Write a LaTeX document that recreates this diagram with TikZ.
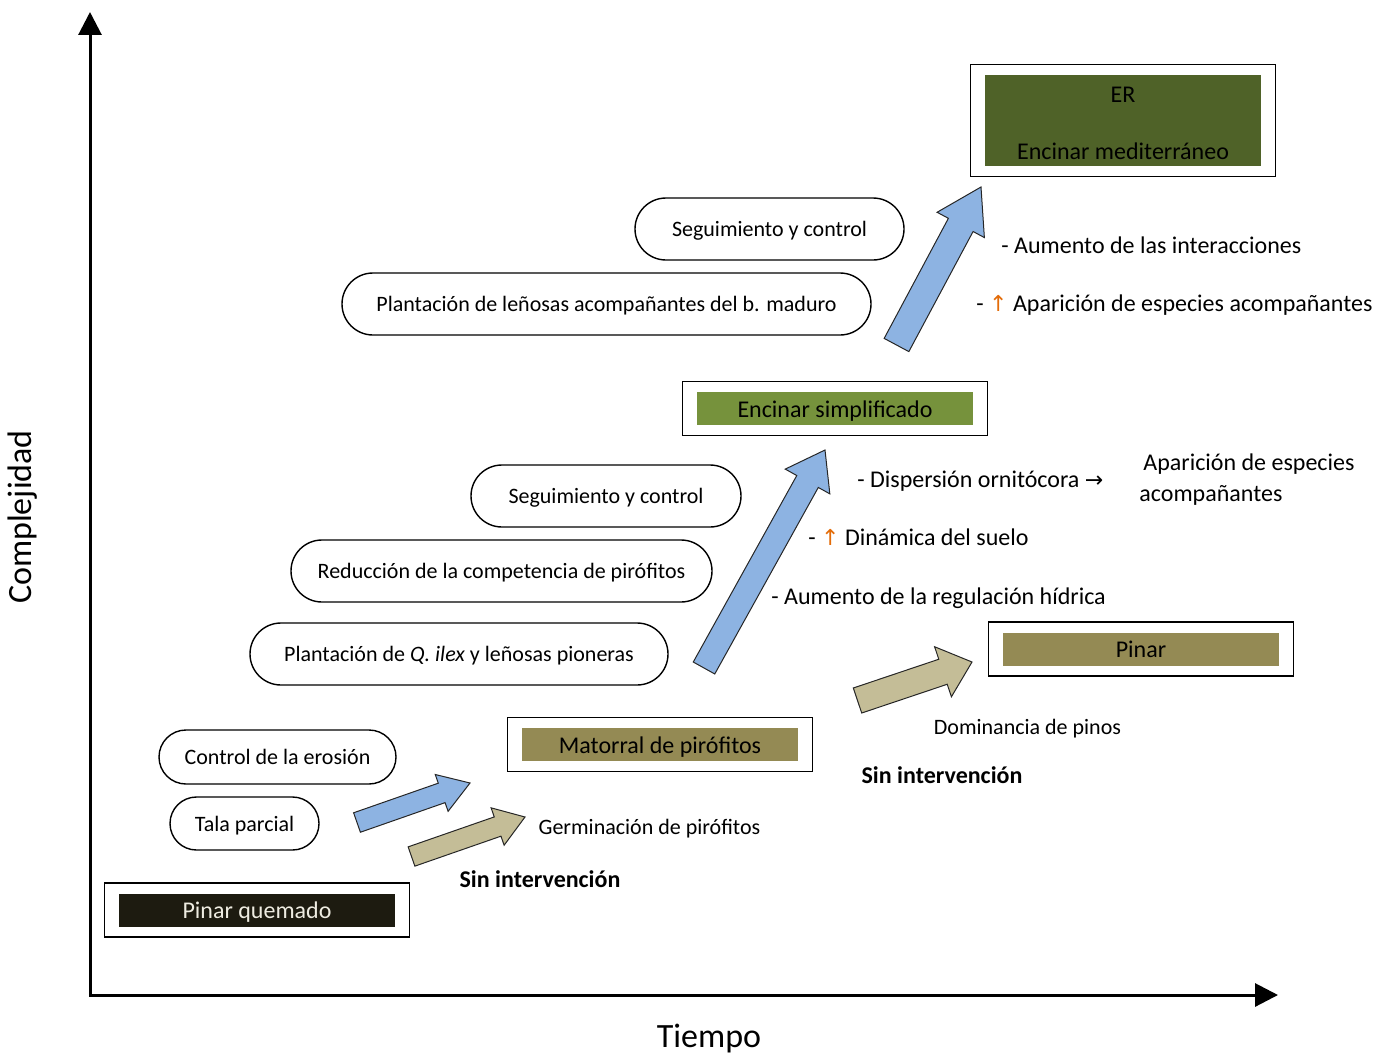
\documentclass[tikz,border=0pt]{standalone}
\usepackage{fontspec}
\setmainfont{Carlito}
\newfontfamily\symbfont{DejaVu Sans}
\usetikzlibrary{arrows.meta,calc,fit,shapes.misc}

\definecolor{burnt}{HTML}{1D1B10}
\definecolor{pale}{HTML}{EEECE1}
\definecolor{pyro}{HTML}{948A54}
\definecolor{holm}{HTML}{76923C}
\definecolor{holmdark}{HTML}{4F6228}
\definecolor{skyarrow}{HTML}{8DB3E2}
\definecolor{sandarrow}{HTML}{C4BD97}
\definecolor{upcolor}{HTML}{E36C09}

\newcommand{\uarrowmark}{{\symbfont\color{upcolor}\fontsize{11}{13}\selectfont ↑}}
\newcommand{\rarrowmark}{{\symbfont\fontsize{11}{13}\selectfont →}}

% block arrow: colour, tail, tip, half shaft, half head, head length
\newcommand{\blockarrow}[6]{%
  \coordinate (hb) at ($(#3)!#6!(#2)$);
  \filldraw[fill=#1, draw=black!85, line width=0.5pt, line join=miter]
    ($(#2)!#4!90:(#3)$) -- ($(hb)!#4!90:(#3)$) -- ($(hb)!#5!90:(#3)$)
    -- (#3) -- ($(hb)!#5!-90:(#3)$) -- ($(hb)!#4!-90:(#3)$)
    -- ($(#2)!#4!-90:(#3)$) -- cycle;
}

\tikzset{
  axisline/.style={line width=1.5pt, {Triangle[length=11.5pt,width=11.5pt]}-{Triangle[length=11.5pt,width=11.5pt]}},
  axislabel/.style={font=\fontsize{17}{20}\selectfont},
  stage/.style={minimum width=138pt, minimum height=16.5pt, inner sep=0pt, font=\fontsize{12}{14.4}\selectfont},
  fixline/.style={text height=10pt, text depth=1.5pt},
  stageframe/.style={draw, line width=0.8pt, inner xsep=7pt, inner ysep=5pt},
  task/.style={rounded rectangle, draw, line width=0.7pt, minimum height=31pt, inner sep=0pt,
    font=\fontsize{11}{13}\selectfont, text height=8.8pt, text depth=1.3pt},
  tasklabel/.style={font=\fontsize{11}{13}\selectfont},
  boldlabel/.style={font=\fontsize{12}{14}\selectfont\bfseries},
  sidenote/.style={anchor=west, inner sep=0pt, font=\fontsize{12}{15.5}\selectfont},
}

\begin{document}
\begin{tikzpicture}[x=0.5pt, y=-0.5pt]
  \useasboundingbox (0,0) rectangle (1396,1054);

  % axes
  \coordinate (origin) at (90,995);
  \coordinate (ytop) at (90,12);
  \coordinate (xend) at (1278,995);
  \draw[axisline] (ytop) -- (origin) -- (xend);
  \node[axislabel] (tiempo) at (709,1039) {Tiempo};
  \node[axislabel, rotate=90] (complej) at (23,517) {Complejidad};

  % states
  \node[stage, fixline, fill=burnt, text=pale] (quemado) at (257,910) {Pinar quemado};
  \node[stage, fixline, fill=pyro] (matorral) at (660,744.5) {Matorral de pirófitos};
  \node[stage, fixline, fill=pyro] (pinar) at (1141,649) {Pinar};
  \node[stage, fixline, fill=holm] (simplif) at (835,408.5) {Encinar simplificado};
  \node[stage, fill=holmdark, minimum height=45.5pt, align=center] (er) at (1123,120.5)
    {\rule{0pt}{10.5pt}ER\\[14.5pt]Encinar mediterráneo};
  \foreach \n in {quemado,matorral,pinar,simplif,er}
    \node[stageframe, fit=(\n)] (\n-box) {};

  % actions
  \node[task, minimum width=134.5pt] (segB) at (769.5,229) {Seguimiento y control};
  \node[task, minimum width=264.5pt] (plantB) at (606.5,304) {Plantación de leñosas acompañantes del b. maduro};
  \node[task, minimum width=135pt] (segA) at (606,496) {Seguimiento y control};
  \node[task, minimum width=210.5pt] (reduc) at (501.5,571) {Reducción de la competencia de pirófitos};
  \node[task, minimum width=209pt] (plantA) at (459,654) {Plantación de \textit{Q. ilex} y leñosas pioneras};
  \node[task, minimum width=118.5pt, minimum height=27pt] (erosion) at (277.5,757) {Control de la erosión};
  \node[task, minimum width=74.5pt, minimum height=26.5pt] (tala) at (244.5,823.5) {Tala parcial};

  % block arrows
  \coordinate (a1tail) at (357,822.5);   \coordinate (a1tip) at (470,783);
  \coordinate (a2tail) at (411.5,856.5); \coordinate (a2tip) at (525,817);
  \coordinate (a3tail) at (704,668);     \coordinate (a3tip) at (825,450);
  \coordinate (a4tail) at (857.5,700.5); \coordinate (a4tip) at (972,662);
  \coordinate (a5tail) at (896.5,345);   \coordinate (a5tip) at (981,187);
  \blockarrow{skyarrow}{a1tail}{a1tip}{5.15pt}{9.75pt}{15pt}
  \blockarrow{sandarrow}{a2tail}{a2tip}{5.1pt}{9.9pt}{14.5pt}
  \blockarrow{skyarrow}{a3tail}{a3tip}{6.15pt}{12.75pt}{18pt}
  \blockarrow{sandarrow}{a4tail}{a4tip}{6.6pt}{13.2pt}{15.3pt}
  \blockarrow{skyarrow}{a5tail}{a5tip}{7pt}{13.4pt}{21.5pt}

  % texts
  \node[tasklabel] (germ) at (649.5,829) {Germinación de pirófitos};
  \node[boldlabel] (sinA) at (540,879) {Sin intervención};
  \node[tasklabel] (domin) at (1027.5,729) {Dominancia de pinos};
  \node[boldlabel] (sinB) at (942,775) {Sin intervención};
  \node[sidenote, fixline] (regul) at (771,596) {- Aumento de la regulación hídrica};
  \node[sidenote, fixline] (suelo) at (808,537) {- \uarrowmark{} Dinámica del suelo};
  \node[sidenote, fixline] (disp) at (857,479) {- Dispersión ornitócora \rarrowmark};
  \node[sidenote, align=left] (apar) at (1139,479.5) {\hspace{2pt}Aparición de especies\\acompañantes};
  \node[sidenote, fixline] (interac) at (1001,245) {- Aumento de las interacciones};
  \node[sidenote, fixline] (aparB) at (976,303) {- \uarrowmark{} Aparición de especies acompañantes};
\end{tikzpicture}
\end{document}
